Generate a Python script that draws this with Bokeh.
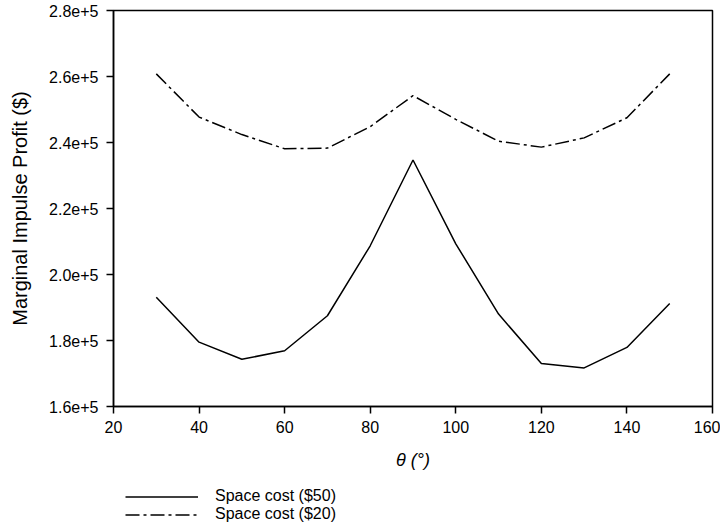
from bokeh.plotting import figure
from bokeh.layouts import column
from bokeh.models import Legend, LegendItem, FixedTicker, ColumnDataSource
from bokeh.embed import file_html
from bokeh.resources import INLINE

theta = [30, 40, 50, 60, 70, 80, 90, 100, 110, 120, 130, 140, 150]
cost_50 = [193100, 179500, 174300, 176900, 187500, 208700, 234700, 209300, 188000, 173000, 171700, 177900, 191200]
cost_20 = [260800, 247700, 242400, 238100, 238300, 244800, 254200, 247000, 240400, 238600, 241400, 247500, 260800]

x_ticks = [20, 40, 60, 80, 100, 120, 140, 160]
y_ticks = [160000, 180000, 200000, 220000, 240000, 260000, 280000]
y_tick_labels = ["1.6e+5", "1.8e+5", "2.0e+5", "2.2e+5", "2.4e+5", "2.6e+5", "2.8e+5"]

series_labels = ["Space cost ($50)", "Space cost ($20)"]

FONT = "Liberation Sans"
DASHDOT = "14 4 3 4"

src = ColumnDataSource(dict(theta=theta, c50=cost_50, c20=cost_20))

p = figure(width=720, height=475,
           x_range=(20, 160), y_range=(160000, 280000),
           output_backend="svg", toolbar_location=None,
           min_border_left=113, min_border_right=8, min_border_top=10, min_border_bottom=69,
           background_fill_color="white", border_fill_color="white")

p.xgrid.visible = False
p.ygrid.visible = False
p.outline_line_color = "black"
p.outline_line_width = 1.5
p.outline_line_alpha = 1.0

p.line("theta", "c50", source=src, line_color="black", line_width=1.5)
p.line("theta", "c20", source=src, line_color="black", line_width=1.5, line_dash=DASHDOT)

for ax in (p.xaxis[0], p.yaxis[0]):
    ax.axis_line_color = "black"
    ax.axis_line_width = 1.5
    ax.major_tick_line_color = "black"
    ax.major_tick_line_width = 1.5
    ax.major_tick_out = 7
    ax.major_tick_in = 0
    ax.minor_tick_line_color = None
    ax.major_label_text_font = FONT
    ax.major_label_text_font_size = "16px"
    ax.major_label_text_color = "black"
    ax.axis_label_text_font = FONT
    ax.axis_label_text_color = "black"

p.xaxis.ticker = FixedTicker(ticks=x_ticks)
p.xaxis.major_label_standoff = 7
p.xaxis.axis_label = "θ (°)"
p.xaxis.axis_label_text_font_style = "italic"
p.xaxis.axis_label_text_font_size = "18px"
p.xaxis.axis_label_standoff = 14

p.yaxis.ticker = FixedTicker(ticks=y_ticks)
p.yaxis.major_label_overrides = {t: l for t, l in zip(y_ticks, y_tick_labels)}
p.yaxis.major_label_standoff = 8
p.yaxis.axis_label = "Marginal Impulse Profit ($)"
p.yaxis.axis_label_text_font_style = "normal"
p.yaxis.axis_label_text_font_size = "20px"
p.yaxis.axis_label_standoff = 15

# legend strip below the chart (series drawn off-range, only the legend shows)
lf = figure(width=720, height=50, x_range=(0, 1), y_range=(0, 1),
            output_backend="svg", toolbar_location=None,
            x_axis_type=None, y_axis_type=None,
            min_border_left=113, min_border_right=8, min_border_top=0, min_border_bottom=0,
            background_fill_color="white", border_fill_color="white")
lf.xgrid.visible = False
lf.ygrid.visible = False
lf.outline_line_color = None
g50 = lf.line("theta", "c50", source=src, line_color="black", line_width=1.5)
g20 = lf.line("theta", "c20", source=src, line_color="black", line_width=1.5, line_dash=DASHDOT)

legend = Legend(items=[LegendItem(label=series_labels[0], renderers=[g50]),
                       LegendItem(label=series_labels[1], renderers=[g20])],
                location="top_left", orientation="vertical",
                glyph_width=73, glyph_height=17, label_height=17, label_standoff=17,
                spacing=0, padding=0, margin=12,
                label_text_font=FONT, label_text_font_size="16px", label_text_color="black",
                border_line_alpha=0, background_fill_alpha=0)
lf.add_layout(legend, "center")

layout = column(p, lf, spacing=0)

open("out.html", "w").write(file_html(layout, INLINE))
